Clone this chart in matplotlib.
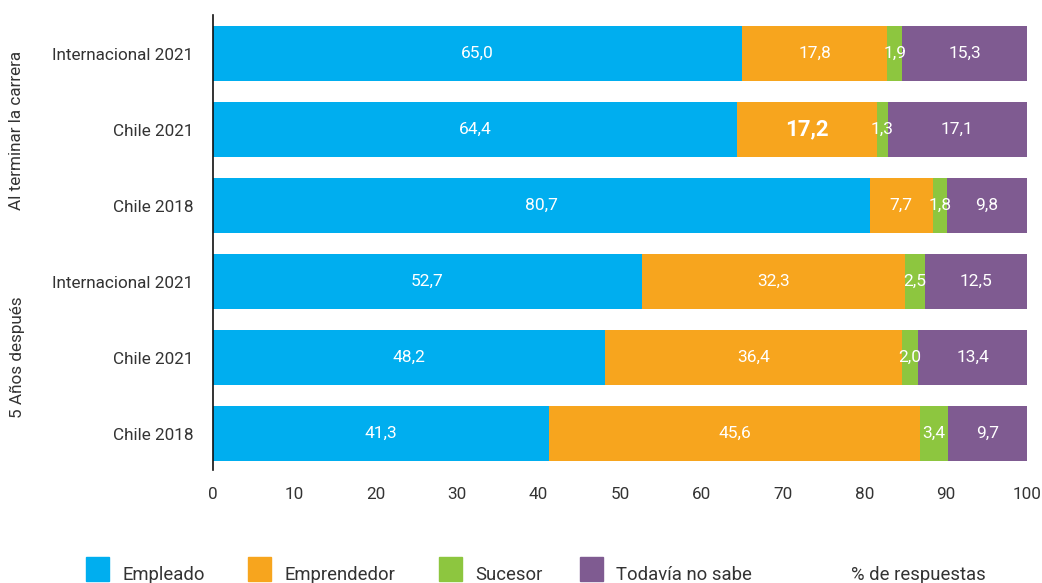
import matplotlib
matplotlib.use("Agg")
import matplotlib.pyplot as plt
from matplotlib.patches import Rectangle

plt.rcParams["font.family"] = ["Roboto", "DejaVu Sans"]

categories = ["Internacional 2021", "Chile 2021", "Chile 2018",
              "Internacional 2021", "Chile 2021", "Chile 2018"]
groups = ["Al terminar la carrera", "5 Años después"]
series_names = ["Empleado", "Emprendedor", "Sucesor", "Todavía no sabe"]
empleado = [65.0, 64.4, 80.7, 52.7, 48.2, 41.3]
emprendedor = [17.8, 17.2, 7.7, 32.3, 36.4, 45.6]
sucesor = [1.9, 1.3, 1.8, 2.5, 2.0, 3.4]
no_sabe = [15.3, 17.1, 9.8, 12.5, 13.4, 9.7]
colors = ["#00aeef", "#f7a51e", "#8dc63f", "#7f5b91"]
TEXT = "#333333"

W, H = 1042, 583
fig = plt.figure(figsize=(W / 100, H / 100), dpi=100)
ax = fig.add_axes([213 / W, 1 - 470 / H, 814 / W, 455 / H])

ypos = list(range(len(categories)))
left = [0.0] * len(categories)
for name, vals, col in zip(series_names, [empleado, emprendedor, sucesor, no_sabe], colors):
    ax.barh(ypos, vals, left=left, height=0.72, color=col, label=name)
    for i, v in enumerate(vals):
        txt = f"{v:.1f}".replace(".", ",")
        bold = (name == "Emprendedor" and i == 1)
        ax.text(left[i] + v / 2, i, txt, ha="center", va="center",
                color="white", fontsize=16 if bold else 12.5,
                fontweight="bold" if bold else "normal")
    left = [a + b for a, b in zip(left, vals)]

ax.set_xlim(0, 100)
ax.set_ylim(5.48, -0.507)
ax.set_xticks(range(0, 101, 10))
ax.set_yticks(ypos)
ax.set_yticklabels(categories)
ax.tick_params(axis="both", length=0, labelsize=12.3, colors=TEXT, pad=14)
ax.tick_params(axis="x", pad=12)
for s in ["top", "right", "bottom"]:
    ax.spines[s].set_visible(False)
ax.spines["left"].set_color("#111111")
ax.spines["left"].set_linewidth(1.2)

# group labels
fig.text(17 / W, 1 - 130 / H, groups[0], rotation=90, ha="center", va="center",
         fontsize=12.3, color=TEXT)
fig.text(17 / W, 1 - 357 / H, groups[1], rotation=90, ha="center", va="center",
         fontsize=12.3, color=TEXT)

# legend drawn by hand along the bottom edge
legend_x = [86, 248, 439, 580]
for x, name, col in zip(legend_x, series_names, colors):
    fig.add_artist(Rectangle((x / W, 1 - 581 / H), 23 / W, 24 / H,
                             transform=fig.transFigure, color=col))
    fig.text((x + 36) / W, 1 - 580 / H, name, fontsize=13.3, color=TEXT,
             va="baseline")
fig.text(851 / W, 1 - 580 / H, "% de respuestas", fontsize=13.3, color=TEXT,
         va="baseline")

fig.savefig("out.png", dpi=100)
